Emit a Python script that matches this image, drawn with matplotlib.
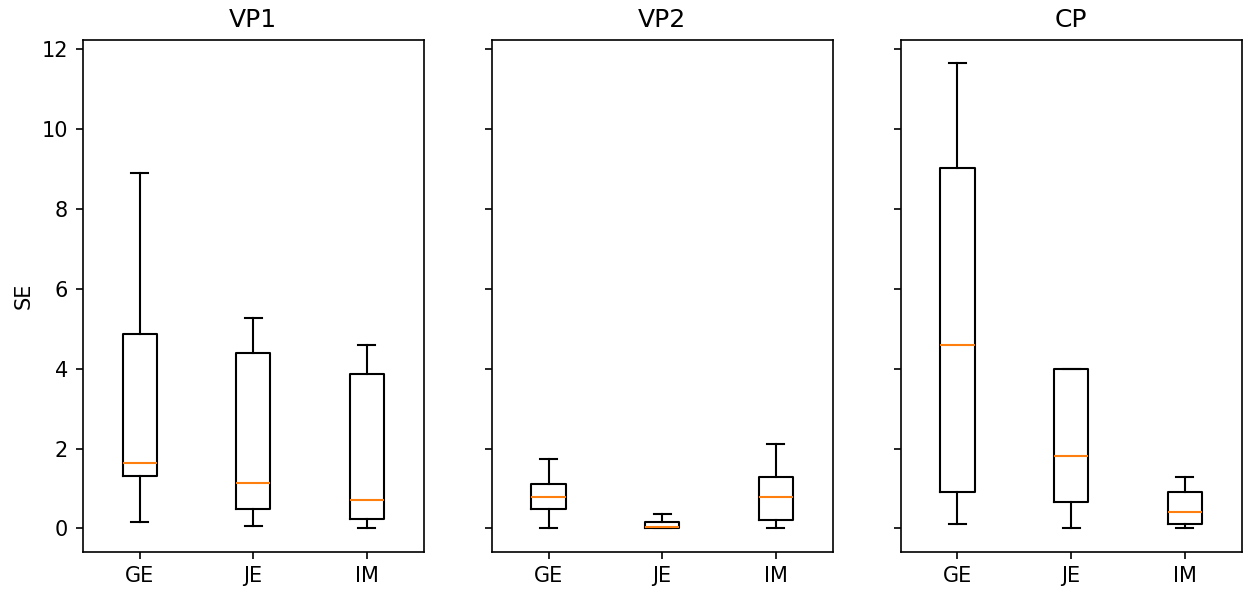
import matplotlib
matplotlib.use("Agg")
import matplotlib.pyplot as plt

panels = ['VP1', 'VP2', 'CP']
methods = ['GE', 'JE', 'IM']

# values, one list per panel (GE, JE, IM)
whislo = {'VP1': [0.15, 0.07, 0.0], 'VP2': [0.0, 0.0, 0.0], 'CP': [0.11, 0.0, 0.0]}
q1 = {'VP1': [1.31, 0.49, 0.24], 'VP2': [0.49, 0.0, 0.21], 'CP': [0.91, 0.66, 0.11]}
med = {'VP1': [1.65, 1.15, 0.70], 'VP2': [0.78, 0.03, 0.78], 'CP': [4.60, 1.82, 0.41]}
q3 = {'VP1': [4.86, 4.39, 3.86], 'VP2': [1.12, 0.16, 1.28], 'CP': [9.03, 3.99, 0.91]}
whishi = {'VP1': [8.90, 5.28, 4.60], 'VP2': [1.73, 0.37, 2.12], 'CP': [11.65, 3.99, 1.28]}


def make_stats(name):
    stats = []
    for i, m in enumerate(methods):
        stats.append({'label': m, 'whislo': whislo[name][i], 'q1': q1[name][i],
                      'med': med[name][i], 'q3': q3[name][i],
                      'whishi': whishi[name][i], 'fliers': []})
    return stats


fig, axes = plt.subplots(1, 3, sharey=True, figsize=(8.32, 3.9667), dpi=150)
for ax, name in zip(axes, panels):
    ax.bxp(make_stats(name), showfliers=False)
    ax.set_title(name)
axes[0].set_ylabel('SE')

plt.subplots_adjust(left=0.0663, right=0.9948, bottom=0.0728, top=0.9328, wspace=0.2)
plt.savefig('out.png')
